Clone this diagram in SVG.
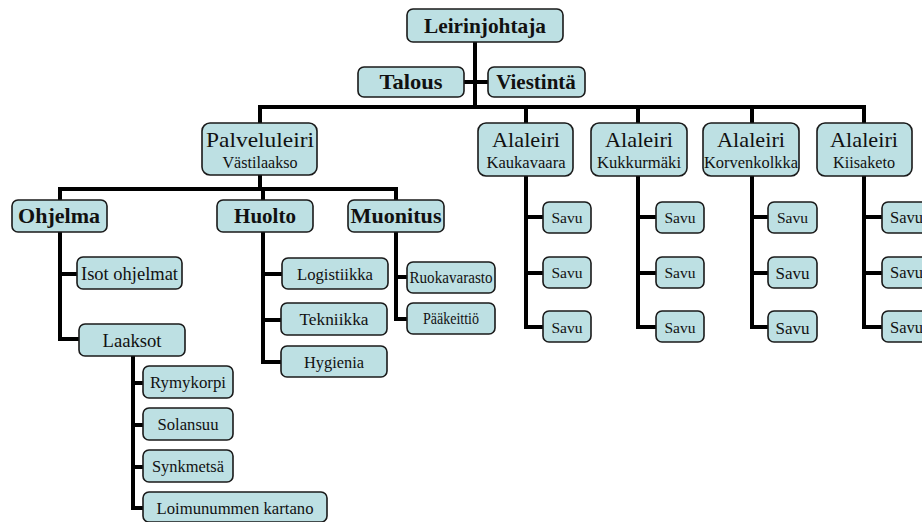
<svg xmlns="http://www.w3.org/2000/svg" width="922" height="522" viewBox="0 0 922 522">
<defs>
<style>
.n rect{fill:#bde0e3;stroke:#1a1a1a;stroke-width:1.6}
#connectors path{fill:none;stroke:#000;stroke-width:4;stroke-linejoin:miter}
</style>
</defs>
<rect width="922" height="522" fill="#fff"/>
<g id="connectors">
<path d="M475,42V107"/>
<path d="M464,82H488"/>
<path d="M260,123V107H864V123"/>
<path d="M526,107V123M638,107V123M752,107V123"/>
<path d="M260,175V189"/>
<path d="M60,200V189H396V200"/>
<path d="M263,189V200"/>
<path d="M60,232V339H79M60,274H77"/>
<path d="M133,356V508H143M133,383H143M133,425H143M133,467H143"/>
<path d="M263,232V362H281M263,274H282M263,320H281"/>
<path d="M396,232V319H407M396,277H407"/>
<path d="M526,176V327H543M526,217H543M526,273H543"/>
<path d="M638,176V327H656M638,217H656M638,273H656"/>
<path d="M752,176V327H768M752,217H768M752,273H768"/>
<path d="M864,176V327H882M864,217H882M864,273H882"/>
</g>
<g font-family="Times New Roman" fill="#111" text-anchor="middle">
<g id="leirinjohtaja" class="n"><rect x="407" y="9" width="156" height="33" rx="6"/><text font-weight="bold" font-size="21" x="485" y="33" textLength="122" lengthAdjust="spacingAndGlyphs">Leirinjohtaja</text></g>
<g id="talous" class="n"><rect x="358" y="67" width="106" height="30" rx="6"/><text font-weight="bold" font-size="21" x="411" y="89" textLength="63" lengthAdjust="spacingAndGlyphs">Talous</text></g>
<g id="viestinta" class="n"><rect x="488" y="67" width="97" height="30" rx="6"/><text font-weight="bold" font-size="21" x="536" y="89">Viestint&#228;</text></g>
<g id="palveluleiri" class="n"><rect x="202" y="123" width="115" height="52" rx="8"/><text font-size="22" x="260" y="147" textLength="108" lengthAdjust="spacingAndGlyphs">Palveluleiri</text><text font-size="16" x="260" y="168" textLength="75" lengthAdjust="spacingAndGlyphs">V&#228;stilaakso</text></g>
<g id="kaukavaara" class="n"><rect x="478" y="123" width="95" height="53" rx="8"/><text font-size="22" x="526" y="147" textLength="68" lengthAdjust="spacingAndGlyphs">Alaleiri</text><text font-size="16" x="526" y="168" textLength="79" lengthAdjust="spacingAndGlyphs">Kaukavaara</text></g>
<g id="kukkurmaki" class="n"><rect x="591" y="123" width="96" height="53" rx="8"/><text font-size="22" x="639" y="147" textLength="68" lengthAdjust="spacingAndGlyphs">Alaleiri</text><text font-size="16" x="639" y="168" textLength="84" lengthAdjust="spacingAndGlyphs">Kukkurm&#228;ki</text></g>
<g id="korvenkolkka" class="n"><rect x="703" y="123" width="96" height="53" rx="8"/><text font-size="22" x="751" y="147" textLength="68" lengthAdjust="spacingAndGlyphs">Alaleiri</text><text font-size="16" x="751" y="168" textLength="94" lengthAdjust="spacingAndGlyphs">Korvenkolkka</text></g>
<g id="kiisaketo" class="n"><rect x="817" y="123" width="95" height="53" rx="8"/><text font-size="22" x="864" y="147" textLength="68" lengthAdjust="spacingAndGlyphs">Alaleiri</text><text font-size="16" x="864" y="168" textLength="62" lengthAdjust="spacingAndGlyphs">Kiisaketo</text></g>
<g id="ohjelma" class="n"><rect x="12" y="200" width="95" height="32" rx="6"/><text font-weight="bold" font-size="21" x="59" y="223" textLength="82" lengthAdjust="spacingAndGlyphs">Ohjelma</text></g>
<g id="huolto" class="n"><rect x="217" y="200" width="96" height="32" rx="6"/><text font-weight="bold" font-size="21" x="265" y="223">Huolto</text></g>
<g id="muonitus" class="n"><rect x="348" y="200" width="96" height="32" rx="6"/><text font-weight="bold" font-size="21" x="396" y="223" textLength="91" lengthAdjust="spacingAndGlyphs">Muonitus</text></g>
<g id="isot-ohjelmat" class="n"><rect x="77" y="257" width="105" height="32" rx="6"/><text font-size="18.5" x="129.5" y="280" textLength="97" lengthAdjust="spacingAndGlyphs">Isot ohjelmat</text></g>
<g id="laaksot" class="n"><rect x="79" y="324" width="106" height="32" rx="6"/><text font-size="18.5" x="132" y="347" textLength="59" lengthAdjust="spacingAndGlyphs">Laaksot</text></g>
<g id="rymykorpi" class="n"><rect x="143" y="366" width="90" height="32" rx="6"/><text font-size="16.5" x="188" y="388" textLength="76" lengthAdjust="spacingAndGlyphs">Rymykorpi</text></g>
<g id="solansuu" class="n"><rect x="143" y="408" width="90" height="32" rx="6"/><text font-size="16.5" x="188" y="430" textLength="61" lengthAdjust="spacingAndGlyphs">Solansuu</text></g>
<g id="synkmetsa" class="n"><rect x="143" y="450" width="90" height="32" rx="6"/><text font-size="16.5" x="188" y="472" textLength="72" lengthAdjust="spacingAndGlyphs">Synkmets&#228;</text></g>
<g id="loimunummen-kartano" class="n"><rect x="143" y="492" width="184" height="30" rx="6"/><text font-size="16.5" x="235" y="514" textLength="157" lengthAdjust="spacingAndGlyphs">Loimunummen kartano</text></g>
<g id="logistiikka" class="n"><rect x="282" y="258" width="106" height="31" rx="6"/><text font-size="16.5" x="335" y="280" textLength="76" lengthAdjust="spacingAndGlyphs">Logistiikka</text></g>
<g id="tekniikka" class="n"><rect x="281" y="303" width="106" height="32" rx="6"/><text font-size="16.5" x="334" y="325" textLength="69" lengthAdjust="spacingAndGlyphs">Tekniikka</text></g>
<g id="hygienia" class="n"><rect x="281" y="346" width="106" height="31" rx="6"/><text font-size="16.5" x="334" y="368" textLength="60" lengthAdjust="spacingAndGlyphs">Hygienia</text></g>
<g id="ruokavarasto" class="n"><rect x="407" y="262" width="88" height="31" rx="6"/><text font-size="16.5" x="451" y="283" textLength="83" lengthAdjust="spacingAndGlyphs">Ruokavarasto</text></g>
<g id="paakeittio" class="n"><rect x="407" y="303" width="88" height="31" rx="6"/><text font-size="16.5" x="451" y="324" textLength="56" lengthAdjust="spacingAndGlyphs">P&#228;&#228;keitti&#246;</text></g>
<g id="savu-1-1" class="n"><rect x="543" y="202" width="48" height="31" rx="6"/><text font-size="15.5" x="567" y="223">Savu</text></g>
<g id="savu-1-2" class="n"><rect x="543" y="257" width="48" height="31" rx="6"/><text font-size="15.5" x="567" y="278">Savu</text></g>
<g id="savu-1-3" class="n"><rect x="543" y="311" width="48" height="31" rx="6"/><text font-size="15.5" x="567" y="333">Savu</text></g>
<g id="savu-2-1" class="n"><rect x="656" y="202" width="48" height="31" rx="6"/><text font-size="15.5" x="680" y="223">Savu</text></g>
<g id="savu-2-2" class="n"><rect x="656" y="257" width="48" height="31" rx="6"/><text font-size="15.5" x="680" y="278">Savu</text></g>
<g id="savu-2-3" class="n"><rect x="656" y="311" width="48" height="31" rx="6"/><text font-size="15.5" x="680" y="333">Savu</text></g>
<g id="savu-3-1" class="n"><rect x="768" y="202" width="49" height="31" rx="6"/><text font-size="15.5" x="792.5" y="223">Savu</text></g>
<g id="savu-3-2" class="n"><rect x="768" y="257" width="49" height="31" rx="6"/><text font-size="17" x="792.5" y="279">Savu</text></g>
<g id="savu-3-3" class="n"><rect x="768" y="311" width="49" height="31" rx="6"/><text font-size="17" x="792.5" y="334">Savu</text></g>
<g id="savu-4-1" class="n"><rect x="882" y="202" width="49" height="31" rx="6"/><text font-size="16.5" x="906.5" y="223">Savu</text></g>
<g id="savu-4-2" class="n"><rect x="882" y="257" width="49" height="31" rx="6"/><text font-size="16.5" x="906.5" y="278">Savu</text></g>
<g id="savu-4-3" class="n"><rect x="882" y="311" width="49" height="31" rx="6"/><text font-size="16.5" x="906.5" y="333">Savu</text></g>
</g>
</svg>
